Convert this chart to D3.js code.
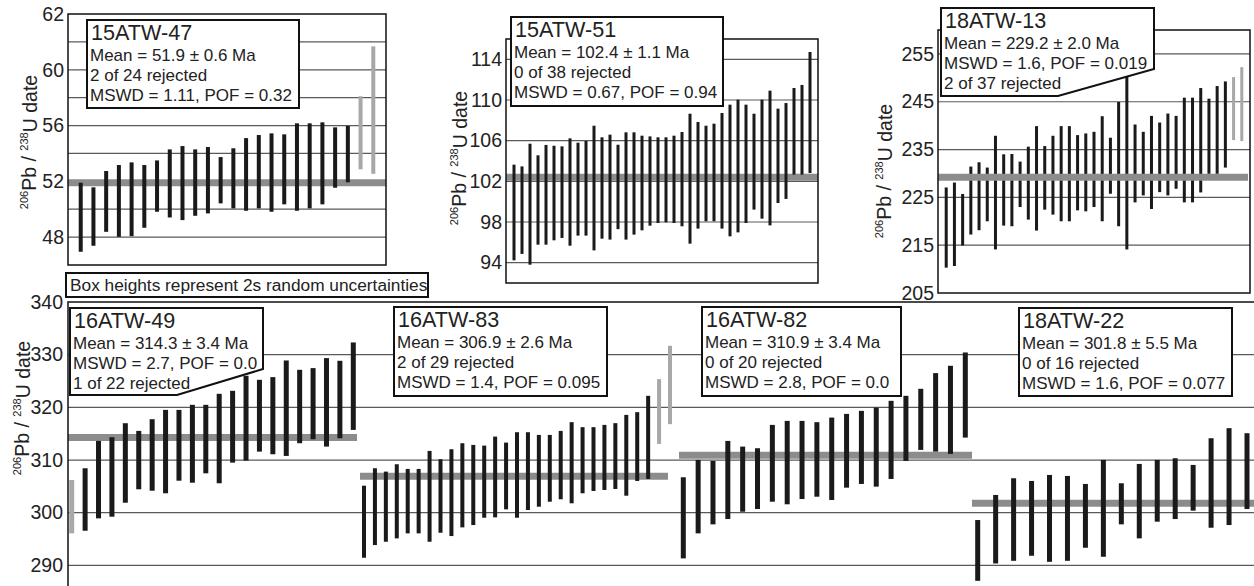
<!DOCTYPE html>
<html>
<head>
<meta charset="utf-8">
<script src="https://cdn.jsdelivr.net/npm/d3@7"></script>
<style>
  body { margin: 0; background: #fff; }
  svg { display: block; font-family: "Liberation Sans", Arial, sans-serif; }
</style>
</head>
<body>
<svg id="chart" width="1254" height="586"></svg>
<script>
// ---- data (206Pb/238U dates, 2s low/high, Ma) ----
const sampleNames = ["15ATW-47", "15ATW-51", "18ATW-13", "16ATW-49", "16ATW-83", "16ATW-82", "18ATW-22"];
const meanAges = [51.9, 102.4, 229.2, 314.3, 306.9, 310.9, 301.8];
const boxLines = [
    ["Mean = 51.9 ± 0.6 Ma", "2 of 24 rejected", "MSWD = 1.11, POF = 0.32"],
    ["Mean = 102.4 ± 1.1 Ma", "0 of 38 rejected", "MSWD = 0.67, POF = 0.94"],
    ["Mean = 229.2 ± 2.0 Ma", "MSWD = 1.6, POF = 0.019", "2 of 37 rejected"],
    ["Mean = 314.3 ± 3.4 Ma", "MSWD = 2.7, POF = 0.0", "1 of 22 rejected"],
    ["Mean = 306.9 ± 2.6 Ma", "2 of 29 rejected", "MSWD = 1.4, POF = 0.095"],
    ["Mean = 310.9 ± 3.4 Ma", "0 of 20 rejected", "MSWD = 2.8, POF = 0.0"],
    ["Mean = 301.8 ± 5.5 Ma", "0 of 16 rejected", "MSWD = 1.6, POF = 0.077"]
];
const noteText = "Box heights represent 2s random uncertainties";

const s47Lo = [46.95, 47.38, 48.38, 48.02, 48.07, 48.67, 49.82, 49.41, 49.22, 49.53, 49.7, 50.42, 50.06, 49.89, 50.06, 49.82, 50.35, 49.89, 50.06, 50.35, 51.54, 51.93, 52.86, 52.54];
const s47Hi = [51.9, 51.57, 52.74, 53.17, 53.36, 53.17, 53.5, 54.29, 54.53, 54.29, 54.46, 53.74, 54.37, 55.1, 55.32, 55.44, 55.37, 56.16, 56.16, 56.23, 55.87, 55.97, 58.1, 61.68];
const s47Rejected = [22, 23];

const s51Lo = [94.23, 94.86, 93.8, 95.77, 95.77, 96.2, 96.43, 95.67, 96.66, 96.66, 95.21, 96.36, 96.27, 97.3, 96.27, 96.76, 97.18, 97.64, 97.9, 97.97, 97.9, 97.58, 95.87, 97.35, 98.07, 98.07, 97.35, 96.59, 96.98, 97.9, 99.22, 98.33, 97.67, 99.87, 100.27, 102.66, 102.66, 102.82];
const s51Hi = [103.64, 103.47, 105.7, 104.56, 105.58, 105.5, 105.44, 106.23, 105.8, 105.97, 107.47, 106.33, 106.59, 105.6, 106.82, 106.82, 106.49, 106.42, 106.33, 106.33, 106.49, 106.85, 108.65, 107.84, 107.47, 107.67, 108.72, 109.54, 110.03, 109.54, 108.65, 110.03, 110.92, 109.15, 109.7, 111.18, 111.48, 114.72];
const s51Rejected = [];

const s13Lo = [210.3, 210.65, 214.94, 217.23, 218.13, 220.0, 214.11, 219.1, 218.96, 222.98, 220.35, 218.06, 222.43, 221.39, 220.0, 220.0, 222.29, 222.08, 222.98, 220.0, 225.76, 218.96, 214.11, 223.95, 225.41, 222.57, 226.1, 225.41, 226.8, 223.95, 223.95, 226.03, 229.91, 229.91, 231.23, 236.98, 236.77];
const s13Hi = [227.07, 228.1, 225.7, 231.44, 232.34, 231.23, 237.88, 234.0, 234.07, 232.48, 235.6, 239.9, 235.73, 237.88, 239.9, 239.9, 238.02, 238.37, 238.71, 241.97, 237.47, 244.95, 251.0, 240.24, 238.71, 242.04, 240.65, 242.53, 242.04, 245.85, 245.85, 247.86, 245.64, 248.28, 249.25, 250.15, 252.23];
const s13Rejected = [35, 36];

const s49Lo = [296.08, 296.58, 298.93, 299.24, 301.9, 304.45, 304.18, 303.69, 306.08, 305.7, 307.48, 305.59, 309.51, 309.89, 311.6, 311.1, 310.78, 313.19, 313.95, 312.55, 314.14, 315.72];
const s49Hi = [306.22, 308.44, 313.63, 314.33, 316.99, 315.53, 317.75, 319.52, 319.52, 320.48, 320.48, 322.57, 323.14, 326.0, 325.23, 325.74, 328.9, 327.13, 327.45, 329.35, 328.84, 332.32];
const s49Rejected = [0];

const s83Lo = [291.45, 293.86, 294.49, 295.13, 296.08, 296.08, 294.49, 296.2, 295.57, 297.22, 297.66, 299.05, 299.12, 300.64, 299.05, 300.51, 301.14, 302.09, 302.55, 301.79, 303.69, 304.13, 304.32, 304.51, 303.23, 306.03, 306.41, 313.06, 316.81];
const s83Hi = [305.13, 308.44, 307.8, 309.2, 308.31, 308.31, 311.73, 310.15, 312.05, 313.19, 312.87, 312.74, 314.45, 313.31, 315.28, 315.28, 314.77, 314.77, 315.53, 317.19, 316.24, 316.24, 316.67, 317.0, 318.57, 319.09, 322.19, 325.36, 331.69];
const s83Rejected = [27, 28];

const s82Lo = [291.33, 296.08, 297.79, 298.8, 300.19, 300.7, 302.09, 301.6, 302.6, 303.04, 302.41, 304.76, 305.46, 304.95, 306.41, 309.83, 311.92, 311.6, 311.16, 314.26];
const s82Hi = [306.73, 310.02, 309.83, 313.63, 312.55, 312.24, 316.67, 317.43, 317.43, 317.19, 318.06, 318.76, 319.33, 319.96, 321.24, 322.19, 323.52, 326.5, 327.89, 330.42];
const s82Rejected = [];

const s22Lo = [287.07, 290.37, 290.87, 291.83, 290.68, 290.87, 293.35, 291.64, 297.79, 295.13, 298.3, 298.8, 300.39, 297.15, 297.66, 300.7];
const s22Hi = [298.61, 303.37, 306.54, 306.03, 307.17, 306.98, 305.46, 310.02, 305.59, 309.26, 310.02, 310.34, 309.07, 314.14, 316.05, 315.09];
const s22Rejected = [];

// axis ticks / labels
const grid47 = [48, 50, 52, 54, 56, 58, 60, 62];
const ticks47 = [64, 60, 56, 52, 48];
const tickLabels47 = ["62", "60", "56", "52", "48"];
const ticks51 = [94, 98, 102, 106, 110, 114];
const ticks13 = [205, 215, 225, 235, 245, 255];
const grid13 = [215, 225, 235, 245, 255];
const ticksBottom = [290, 300, 310, 320, 330, 340];
const gridBottom = [290, 300, 310, 320, 330];

// ---- layout ----
const svg = d3.select("#chart");
const gridColor = "#5a5a5a";
const barColor = "#1a1a1a";
const rejColor = "#a8a8a8";
const bandColor = "#8c8c8c";

const topPanels = [
    { s: 0, lo: s47Lo, hi: s47Hi, rej: s47Rejected, domain: [46, 64], grid: grid47, ticks: ticks47, labels: tickLabels47,
      x: [68, 386], y: [14, 265], barW: 4, bandTop: false, ylab: [31, 142],
      box: [[87, 20], [299, 20], [299, 108], [87, 108]] },
    { s: 1, lo: s51Lo, hi: s51Hi, rej: s51Rejected, domain: [92, 116], grid: ticks51, ticks: ticks51, labels: ticks51.map(String),
      x: [506, 818], y: [39, 283], barW: 3, bandTop: false, ylab: [461, 158],
      box: [[511, 17], [723, 17], [723, 106], [511, 106]] },
    { s: 2, lo: s13Lo, hi: s13Hi, rej: s13Rejected, domain: [205, 260], grid: grid13, ticks: ticks13, labels: ticks13.map(String),
      x: [938, 1250], y: [30, 293], barW: 3, bandTop: true, ylab: [886, 171],
      box: [[941, 8], [1154, 8], [1154, 69], [1058, 96], [941, 96]] }
];

function drawBars(g, xs, y, lo, hi, rej, w) {
    g.selectAll(null)
        .data(lo.map((d, i) => ({ i, lo: d, hi: hi[i] })))
        .enter()
        .append("rect")
        .attr("x", d => xs(d.i) - w / 2)
        .attr("y", d => y(d.hi))
        .attr("width", w)
        .attr("height", d => y(d.lo) - y(d.hi))
        .attr("fill", d => rej.includes(d.i) ? rejColor : barColor);
}

function drawTickLabels(scale, x, ticks, labels) {
    const ax = d3.axisLeft(scale)
        .tickValues(ticks)
        .tickSize(0)
        .tickPadding(0)
        .tickFormat((d, i) => labels[i]);
    const g = svg.append("g").attr("transform", `translate(${x},0)`).call(ax);
    g.select(".domain").remove();
    g.selectAll("text")
        .attr("font-size", 19.5)
        .attr("fill", "#222")
        .attr("font-family", "'Liberation Sans', Arial, sans-serif");
}

function yTitle(cx, cy) {
    const t = svg.append("text")
        .attr("transform", `translate(${cx},${cy}) rotate(-90)`)
        .attr("text-anchor", "middle")
        .attr("dy", "0.35em")
        .attr("fill", "#222");
    t.append("tspan").attr("font-size", 11).attr("dy", "-0.3em").text("206");
    t.append("tspan").attr("font-size", 19.5).attr("dy", "0.45em").text("Pb / ");
    t.append("tspan").attr("font-size", 11).attr("dy", "-0.75em").text("238");
    t.append("tspan").attr("font-size", 19.5).attr("dy", "0.45em").text("U date");
}

function drawBand(g, x0, x1, yv) {
    g.append("line")
        .attr("x1", x0).attr("x2", x1)
        .attr("y1", yv).attr("y2", yv)
        .attr("stroke", bandColor)
        .attr("stroke-width", 7);
}

// top panels
topPanels.forEach(p => {
    const y = d3.scaleLinear().domain(p.domain).range([p.y[1], p.y[0]]);
    const xs = d3.scalePoint().domain(d3.range(p.lo.length)).range(p.x).padding(1);
    const g = svg.append("g");
    g.selectAll(null).data(p.grid).enter().append("line")
        .attr("x1", p.x[0]).attr("x2", p.x[1])
        .attr("y1", d => y(d)).attr("y2", d => y(d))
        .attr("stroke", gridColor).attr("stroke-width", 1.2);
    if (!p.bandTop) drawBand(g, p.x[0], p.x[1], y(meanAges[p.s]));
    drawBars(g, xs, y, p.lo, p.hi, p.rej, p.barW);
    if (p.bandTop) drawBand(g, p.x[0], p.x[1] - 2, y(meanAges[p.s]));
    g.append("rect")
        .attr("x", p.x[0]).attr("y", p.y[0])
        .attr("width", p.x[1] - p.x[0]).attr("height", p.y[1] - p.y[0])
        .attr("fill", "none").attr("stroke", "#111").attr("stroke-width", 1.5);
    drawTickLabels(y, p.x[0] - 4, p.ticks, p.labels);
    yTitle(p.ylab[0], p.ylab[1]);
});

// bottom panel: one shared axis, four sample sections
const bottom = { x: [68, 1262], y: [302, 597], domain: [284, 340] };
const yB = d3.scaleLinear().domain(bottom.domain).range([bottom.y[1], bottom.y[0]]);
const sections = [
    { s: 3, lo: s49Lo, hi: s49Hi, rej: s49Rejected, bars: [71.7, 353.3], band: [68, 357], barW: 5,
      box: [[70, 308], [263, 308], [263, 369], [177, 395], [70, 395]] },
    { s: 4, lo: s83Lo, hi: s83Hi, rej: s83Rejected, bars: [364, 670], band: [360, 668], barW: 4,
      box: [[394, 307], [607, 307], [607, 396], [394, 396]] },
    { s: 5, lo: s82Lo, hi: s82Hi, rej: s82Rejected, bars: [683.3, 965.3], band: [679, 972], barW: 5,
      box: [[702, 307], [901, 307], [901, 396], [702, 396]] },
    { s: 6, lo: s22Lo, hi: s22Hi, rej: s22Rejected, bars: [977.7, 1247], band: [972, 1254], barW: 5,
      box: [[1019, 308], [1232, 308], [1232, 396], [1019, 396]] }
];

const gB = svg.append("g");
gB.selectAll(null).data(gridBottom).enter().append("line")
    .attr("x1", bottom.x[0]).attr("x2", bottom.x[1])
    .attr("y1", d => yB(d)).attr("y2", d => yB(d))
    .attr("stroke", gridColor).attr("stroke-width", 1.2);
sections.forEach(sec => {
    const xs = d3.scalePoint().domain(d3.range(sec.lo.length)).range(sec.bars);
    drawBand(gB, sec.band[0], sec.band[1], yB(meanAges[sec.s]));
    drawBars(gB, xs, yB, sec.lo, sec.hi, sec.rej, sec.barW);
});
gB.append("rect")
    .attr("x", bottom.x[0]).attr("y", bottom.y[0])
    .attr("width", bottom.x[1] - bottom.x[0]).attr("height", bottom.y[1] - bottom.y[0])
    .attr("fill", "none").attr("stroke", "#111").attr("stroke-width", 1.5);
drawTickLabels(yB, bottom.x[0] - 5, ticksBottom, ticksBottom.map(String));
yTitle(24, 408);

// legend boxes
const boxes = topPanels.map(p => ({ s: p.s, pts: p.box })).concat(sections.map(s => ({ s: s.s, pts: s.box })));
boxes.forEach(b => {
    const left = d3.min(b.pts, d => d[0]);
    const top = d3.min(b.pts, d => d[1]);
    svg.append("path")
        .attr("d", d3.line()(b.pts) + "Z")
        .attr("fill", "#fff")
        .attr("stroke", "#111")
        .attr("stroke-width", 2);
    svg.append("text")
        .attr("x", left + 4).attr("y", top + 20)
        .attr("font-size", 21.6).attr("fill", "#222")
        .text(sampleNames[b.s]);
    svg.selectAll(null).data(boxLines[b.s]).enter().append("text")
        .attr("x", left + 3)
        .attr("y", (d, i) => top + 41 + i * 20)
        .attr("font-size", 17).attr("fill", "#222")
        .text(d => d);
});

// note
svg.append("rect")
    .attr("x", 66).attr("y", 273).attr("width", 362).attr("height", 24)
    .attr("fill", "#fff").attr("stroke", "#111").attr("stroke-width", 2);
svg.append("text")
    .attr("x", 70).attr("y", 291)
    .attr("font-size", 17.3).attr("fill", "#222")
    .text(noteText);
</script>
</body>
</html>
